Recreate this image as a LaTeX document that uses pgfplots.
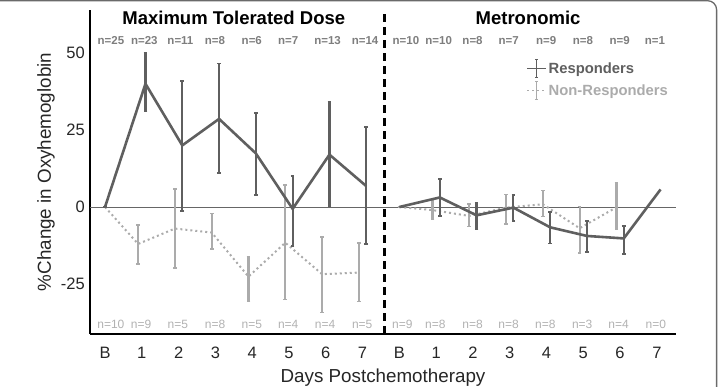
\documentclass[border=0pt]{standalone}
\usepackage{fontspec}
\setmainfont{Liberation Sans}
\usepackage{pgfplots}
\usepackage{pgfplotstable}
\pgfplotsset{compat=1.18}

\definecolor{resp}{HTML}{5F5F5F}
\definecolor{nonresp}{HTML}{ABABAB}
\definecolor{ntop}{HTML}{7E7E7E}
\definecolor{nbot}{HTML}{B2B2B2}
\definecolor{frame}{HTML}{6A6A6A}

% Mean % change with upper (ep) and lower (em) error extents
\pgfplotstableread{
x    y     ep    em
0    0     0     0
1.1  40.0  10.0  9.0
2.1  20.0  21.0  21.3
3.1  28.6  18.0  17.6
4.1  17.4  13.2  13.5
5.1  -0.6  10.6  12.0
6.1  17.0  17.0  16.8
7.1  6.8   19.1  18.9
}\mtdresp
\pgfplotstableread{
x    y      ep    em
0    0      0     0
0.9  -12.0  6.1   6.6
1.9  -7.0   12.8  12.8
2.9  -8.3   6.2   5.4
3.9  -22.6  6.4   8.0
4.9  -11.6  18.8  18.4
5.9  -21.8  12.1  12.4
6.9  -21.3  9.7   9.4
}\mtdnon
\pgfplotstableread{
x     y      ep    em
8     0      0     0
9.1   3.1    6.0   6.0
10.1  -2.7   4.1   4.4
11.1  -0.2   4.0   4.3
12.1  -6.6   4.9   5.2
13.1  -9.4   4.9   5.3
14.1  -10.2  4.1   5.0
15.1  5.7    0     0
}\metresp
\pgfplotstableread{
x     y     ep    em
8     0     0     0
8.9   -1.0  3.3   3.0
9.9   -2.9  3.8   3.4
10.9  -0.2  4.2   5.3
11.9  0.9   4.4   4.0
12.9  -6.9  7.0   8.1
13.9  -0.1  8.0   7.1
}\metnon

\begin{document}
\begin{tikzpicture}
\useasboundingbox (0pt,0pt) rectangle (720pt,387pt);
\draw[frame, line width=1.3pt, rounded corners=9pt] (-2pt,386.3pt) -- (716.6pt,386.3pt) -- (716.6pt,-2pt);

\begin{axis}[
  at={(90pt,53pt)}, anchor=south west,
  scale only axis, width=586pt, height=324pt,
  xmin=-0.408, xmax=15.52, ymin=-41.23, ymax=63.96,
  clip=false,
  axis x line*=bottom, axis y line*=left,
  axis line style={-, line width=2.6pt, black},
  major tick length=0pt,
  xtick={0,...,15},
  xticklabels={B,1,2,3,4,5,6,7,B,1,2,3,4,5,6,7},
  ytick={-25,0,25,50},
  yticklabels={-25,0,25,50},
  ticklabel style={font=\fontsize{16.5}{18}\selectfont, text=black!85},
  xticklabel style={anchor=base, yshift=-24.3pt},
  yticklabel style={anchor=east, inner sep=0pt, xshift=-5pt},
  xlabel={Days Postchemotherapy},
  ylabel={\%Change in Oxyhemoglobin},
  every axis x label/.style={at={(axis description cs:0.5,-0.150)}, anchor=base,
    font=\fontsize{18.8}{20}\selectfont, text=black!85},
  every axis y label/.style={at={(axis description cs:-0.0751,0.5)}, anchor=center,
    rotate=90, font=\fontsize{18.8}{20}\selectfont, text=black!85},
  legend image code/.code={
    \draw[#1, line width=1.2pt] (0pt,0pt) -- (19pt,0pt);
    \draw[#1, solid, line width=1.4pt] (9.5pt,-9pt) -- (9.5pt,9pt);
    \draw[#1, solid, line width=1pt] (8pt,9pt) -- (11pt,9pt) (8pt,-9pt) -- (11pt,-9pt);
  },
  legend style={at={(axis cs:11.45,48.2)}, anchor=north west, draw=none, fill=none,
    inner sep=0pt, row sep=3pt, font=\bfseries\fontsize{14.8}{16}\selectfont},
  legend cell align=left,
  reverse legend,
  errbar/.style={draw=none, mark=none, forget plot, line width=2.2pt,
    error bars/.cd, y dir=both, y explicit,
    error bar style={draw=#1, line width=2.2pt, solid},
    error mark options={rotate=90, draw=#1, mark size=1.8pt, line width=1.6pt}},
]

% zero reference line and separator between the two regimens
\draw[black!60, line width=1pt] (axis cs:-0.408,0) -- (axis cs:15.52,0);
\draw[black, line width=2.4pt, dash pattern=on 8pt off 5pt] (axis cs:7.6,-41.23) -- (axis cs:7.6,63);

% Non-responders
\addplot[nonresp, line width=2pt, dash pattern=on 2pt off 3pt, mark=none] table[x=x,y=y] {\mtdnon};
\addlegendentry{\textcolor{nonresp}{Non-Responders}}
\addplot[nonresp, line width=2pt, dash pattern=on 2pt off 3pt, mark=none, forget plot] table[x=x,y=y] {\metnon};
\addplot[errbar=nonresp]
  table[x=x,y=y,y error plus=ep,y error minus=em,skip first n=1] {\mtdnon};
\addplot[errbar=nonresp]
  table[x=x,y=y,y error plus=ep,y error minus=em,skip first n=1] {\metnon};

% Responders
\addplot[resp, line width=2.6pt, mark=none] table[x=x,y=y] {\mtdresp};
\addlegendentry{\textcolor{resp}{Responders}}
\addplot[resp, line width=2.6pt, mark=none, forget plot] table[x=x,y=y] {\metresp};
\addplot[errbar=resp]
  table[x=x,y=y,y error plus=ep,y error minus=em,skip first n=1] {\mtdresp};
\addplot[restrict x to domain=9:14.5, errbar=resp]
  table[x=x,y=y,y error plus=ep,y error minus=em] {\metresp};

% Titles
\node[font=\bfseries\fontsize{18.5}{20}\selectfont, anchor=base] at (axis cs:3.5,59.1) {Maximum Tolerated Dose};
\node[font=\bfseries\fontsize{18.5}{20}\selectfont, anchor=base] at (axis cs:11.5,59.1) {Metronomic};

% Group sizes, responders (top) and non-responders (bottom)
\tikzset{ntopl/.style={font=\bfseries\fontsize{11.5}{12}\selectfont, text=ntop, anchor=base},
         nbotl/.style={font=\fontsize{12}{13}\selectfont, text=nbot, anchor=base}}
\node[ntopl] at (axis cs:0.16,52.9) {n=25};
\node[ntopl] at (axis cs:1.07,52.9) {n=23};
\node[ntopl] at (axis cs:2.05,52.9) {n=11};
\node[ntopl] at (axis cs:2.99,52.9) {n=8};
\node[ntopl] at (axis cs:3.99,52.9) {n=6};
\node[ntopl] at (axis cs:4.98,52.9) {n=7};
\node[ntopl] at (axis cs:6.05,52.9) {n=13};
\node[ntopl] at (axis cs:7.07,52.9) {n=14};
\node[ntopl] at (axis cs:8.18,52.9) {n=10};
\node[ntopl] at (axis cs:9.07,52.9) {n=10};
\node[ntopl] at (axis cs:9.99,52.9) {n=8};
\node[ntopl] at (axis cs:10.97,52.9) {n=7};
\node[ntopl] at (axis cs:11.99,52.9) {n=9};
\node[ntopl] at (axis cs:12.99,52.9) {n=8};
\node[ntopl] at (axis cs:13.99,52.9) {n=9};
\node[ntopl] at (axis cs:14.95,52.9) {n=1};

\node[nbotl] at (axis cs:0.16,-39.4) {n=10};
\node[nbotl] at (axis cs:0.98,-39.4) {n=9};
\node[nbotl] at (axis cs:1.98,-39.4) {n=5};
\node[nbotl] at (axis cs:2.99,-39.4) {n=8};
\node[nbotl] at (axis cs:3.99,-39.4) {n=5};
\node[nbotl] at (axis cs:4.98,-39.4) {n=4};
\node[nbotl] at (axis cs:5.98,-39.4) {n=4};
\node[nbotl] at (axis cs:6.99,-39.4) {n=5};
\node[nbotl] at (axis cs:8.08,-39.4) {n=9};
\node[nbotl] at (axis cs:8.98,-39.4) {n=8};
\node[nbotl] at (axis cs:9.99,-39.4) {n=8};
\node[nbotl] at (axis cs:10.97,-39.4) {n=8};
\node[nbotl] at (axis cs:11.97,-39.4) {n=8};
\node[nbotl] at (axis cs:12.97,-39.4) {n=3};
\node[nbotl] at (axis cs:13.96,-39.4) {n=4};
\node[nbotl] at (axis cs:14.97,-39.4) {n=0};
\end{axis}
\end{tikzpicture}
\end{document}
